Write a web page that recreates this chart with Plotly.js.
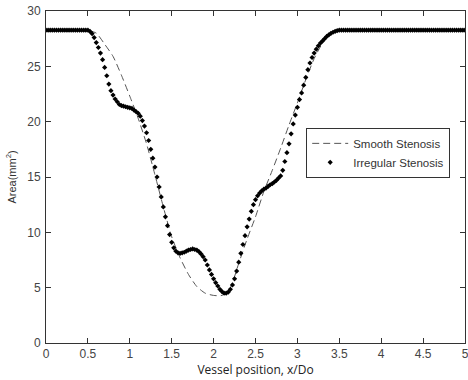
<!DOCTYPE html>
<html>
<head>
<meta charset="utf-8">
<script src="https://cdn.plot.ly/plotly-3.0.1.min.js"></script>
<style>html,body{margin:0;padding:0;background:#fff}#chart{width:468px;height:380px}</style>
</head>
<body>
<div id="chart"></div>
<script>
// Smooth stenosis (dashed line)
var smoothX = [0,0.1,0.2,0.3,0.4,0.5,0.6,0.7,0.8,0.9,1.0,1.1,1.2,1.3,1.4,1.5,1.6,1.7,1.8,1.9,2.0,2.1,2.2,2.3,2.4,2.5,2.6,2.7,2.8,2.9,3.0,3.1,3.2,3.3,3.4,3.5,3.6,3.7,3.8,3.9,4.0,4.1,4.2,4.3,4.4,4.5,4.6,4.7,4.8,4.9,5.0];
var smoothY = [28.27,28.27,28.27,28.27,28.27,28.25,28.0,27.0,25.9,24.2,22.3,20.3,18.0,15.2,12.3,9.6,7.7,6.2,5.1,4.5,4.3,4.3,5.0,7.2,9.4,11.4,13.7,15.6,17.6,19.7,21.7,23.8,25.7,27.1,27.95,28.27,28.27,28.27,28.27,28.27,28.27,28.27,28.27,28.27,28.27,28.27,28.27,28.27,28.27,28.27,28.27];

// Irregular stenosis (markers)
var irregX = [0,0.025,0.05,0.075,0.1,0.125,0.15,0.175,0.2,0.225,0.25,0.275,0.3,0.325,0.35,0.375,0.4,0.425,0.45,0.475,
0.5,0.525,0.55,0.575,0.6,0.625,0.65,0.675,0.7,0.725,0.75,0.775,0.8,0.825,0.85,0.875,0.9,0.925,0.95,0.975,
1.0,1.025,1.05,1.075,1.1,1.125,1.15,1.175,1.2,1.225,1.25,1.275,1.3,1.325,1.35,1.375,1.4,1.425,1.45,1.475,
1.5,1.525,1.55,1.575,1.6,1.625,1.65,1.675,1.7,1.725,1.75,1.775,1.8,1.825,1.85,1.875,1.9,1.925,1.95,1.975,
2.0,2.025,2.05,2.075,2.1,2.125,2.15,2.175,2.2,2.225,2.25,2.275,2.3,2.325,2.35,2.375,2.4,2.425,2.45,2.475,
2.5,2.525,2.55,2.575,2.6,2.625,2.65,2.675,2.7,2.725,2.75,2.775,2.8,2.825,2.85,2.875,2.9,2.925,2.95,2.975,
3.0,3.025,3.05,3.075,3.1,3.125,3.15,3.175,3.2,3.225,3.25,3.275,3.3,3.325,3.35,3.375,3.4,3.425,3.45,3.475,
3.5,3.525,3.55,3.575,3.6,3.625,3.65,3.675,3.7,3.725,3.75,3.775,3.8,3.825,3.85,3.875,3.9,3.925,3.95,3.975,
4.0,4.025,4.05,4.075,4.1,4.125,4.15,4.175,4.2,4.225,4.25,4.275,4.3,4.325,4.35,4.375,4.4,4.425,4.45,4.475,
4.5,4.525,4.55,4.575,4.6,4.625,4.65,4.675,4.7,4.725,4.75,4.775,4.8,4.825,4.85,4.875,4.9,4.925,4.95,4.975,5.0];
var irregY = [28.27,28.27,28.27,28.27,28.27,28.27,28.27,28.27,28.27,28.27,28.27,28.27,28.27,28.27,28.27,28.27,28.27,28.27,28.27,28.27,
28.27,28.15,27.95,27.6,27.15,26.7,26.2,25.6,24.9,24.15,23.4,22.8,22.4,22.05,21.8,21.55,21.45,21.4,21.35,21.3,
21.25,21.2,21.05,20.9,20.75,20.5,20.1,19.6,19.0,18.3,17.5,16.7,15.9,15.0,14.1,13.2,12.3,11.4,10.6,9.8,
9.1,8.6,8.3,8.15,8.1,8.15,8.2,8.3,8.4,8.45,8.5,8.45,8.4,8.25,8.05,7.8,7.5,7.05,6.6,6.2,
5.8,5.45,5.15,4.85,4.65,4.5,4.5,4.6,4.85,5.25,5.8,6.5,7.3,8.1,8.9,9.7,10.5,11.2,11.9,12.5,
12.95,13.3,13.55,13.75,13.9,14.0,14.15,14.3,14.4,14.55,14.7,14.9,15.1,15.6,16.4,17.2,18.0,18.9,19.8,20.6,
21.3,22.0,22.6,23.3,24.0,24.7,25.3,25.8,26.2,26.55,26.85,27.1,27.3,27.5,27.7,27.85,27.98,28.08,28.16,28.22,
28.27,28.27,28.27,28.27,28.27,28.27,28.27,28.27,28.27,28.27,28.27,28.27,28.27,28.27,28.27,28.27,28.27,28.27,28.27,28.27,
28.27,28.27,28.27,28.27,28.27,28.27,28.27,28.27,28.27,28.27,28.27,28.27,28.27,28.27,28.27,28.27,28.27,28.27,28.27,28.27,
28.27,28.27,28.27,28.27,28.27,28.27,28.27,28.27,28.27,28.27,28.27,28.27,28.27,28.27,28.27,28.27,28.27,28.27,28.27,28.27,28.27];

var xTicks = [0,0.5,1,1.5,2,2.5,3,3.5,4,4.5,5];
var xTickText = ['0','0.5','1','1.5','2','2.5','3','3.5','4','4.5','5'];
var yTicks = [0,5,10,15,20,25,30];

var traces = [
  {x: smoothX, y: smoothY, type: 'scatter', mode: 'lines', name: 'Smooth Stenosis',
   line: {color: '#555', width: 1, dash: '7px,4px', shape: 'spline', smoothing: 0.6}},
  {x: irregX, y: irregY, type: 'scatter', mode: 'markers', name: 'Irregular Stenosis',
   marker: {color: '#000', size: 4, symbol: 'diamond'}}
];

var axisCommon = {
  showgrid: false, zeroline: false, showline: true, linecolor: '#333', linewidth: 1,
  mirror: 'ticks', ticks: 'inside', ticklen: 5, tickcolor: '#333', tickwidth: 1,
  automargin: false, ticklabeloverflow: 'allow',
  tickfont: {family: 'Liberation Sans, Arial, sans-serif', size: 12, color: '#444'}
};

var layout = {
  width: 468, height: 380,
  margin: {l: 46, r: 3, t: 11, b: 37},
  paper_bgcolor: '#fff', plot_bgcolor: '#fff',
  showlegend: true,
  xaxis: Object.assign({}, axisCommon, {
    range: [0, 5], tickvals: xTicks, ticktext: xTickText,
    title: {text: 'Vessel position, x/Do', font: {family: 'Open Sans, sans-serif', size: 12, color: '#222'}, standoff: 4}
  }),
  yaxis: Object.assign({}, axisCommon, {
    range: [0, 30], tickvals: yTicks, ticklabelstandoff: 2,
    title: {text: 'Area(mm<sup>2</sup>)', font: {family: 'Liberation Sans, Arial, sans-serif', size: 11, color: '#333'}, standoff: 8}
  }),
  legend: {
    x: 0.621, y: 0.648, xanchor: 'left', yanchor: 'top',
    bgcolor: '#fff', bordercolor: '#333', borderwidth: 1,
    font: {family: 'Liberation Sans, Arial, sans-serif', size: 11.5, color: '#333'},
    tracegroupgap: 0, itemwidth: 36
  }
};

Plotly.newPlot('chart', traces, layout, {displayModeBar: false, staticPlot: true});
</script>
</body>
</html>
